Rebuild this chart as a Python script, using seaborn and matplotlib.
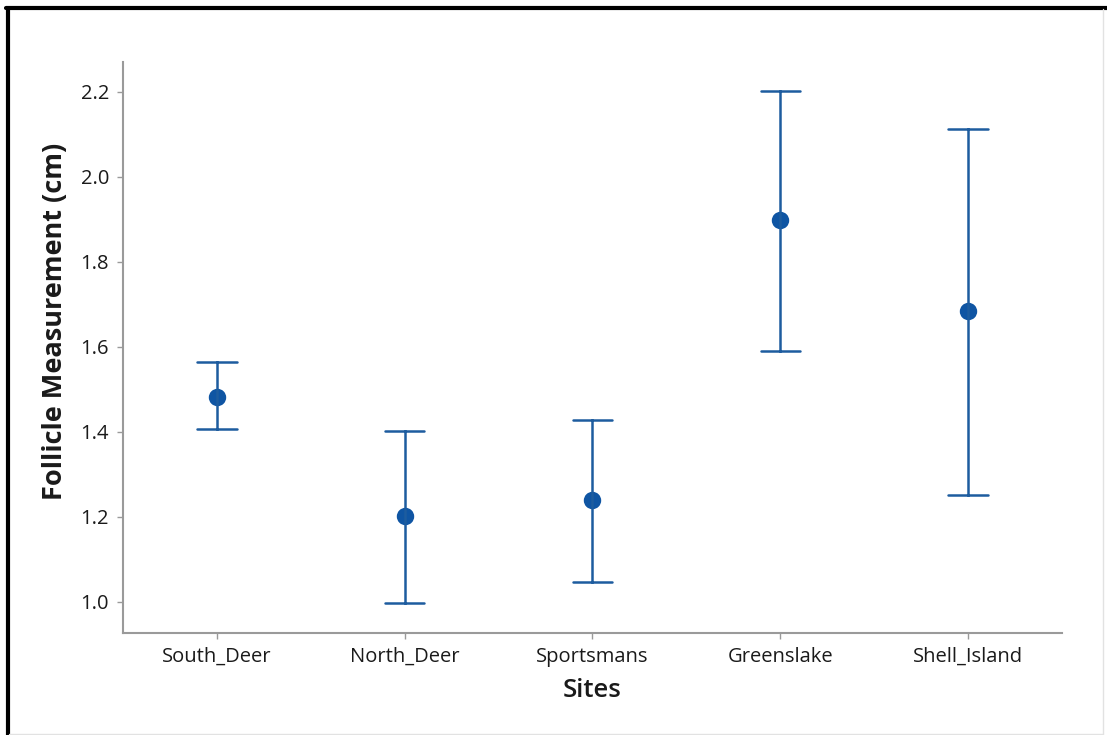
import matplotlib
matplotlib.use("Agg")
import matplotlib.pyplot as plt
import seaborn as sns
import pandas as pd
from matplotlib.lines import Line2D

# Site means with the lower / upper ends of their intervals (cm)
sites = ["South_Deer", "North_Deer", "Sportsmans", "Greenslake", "Shell_Island"]
means = [1.482, 1.202, 1.240, 1.899, 1.685]
lower = [1.407, 0.998, 1.047, 1.591, 1.252]
upper = [1.565, 1.402, 1.428, 2.202, 2.113]
yticks = [1.0, 1.2, 1.4, 1.6, 1.8, 2.0, 2.2]

# Long-form table: the median of (lower, mean, upper) is the mean and the
# full range (pi 100) spans the interval.
rows = []
for s, lo, m, hi in zip(sites, lower, means, upper):
    for v in (lo, m, hi):
        rows.append({"Sites": s, "value": v})
df = pd.DataFrame(rows)

sns.set_theme(style="white")
plt.rcParams["font.family"] = ["Open Sans", "DejaVu Sans"]

fig = plt.figure(figsize=(11.07, 7.35), dpi=100)
ax = fig.add_axes([0.1111, 0.1388, 0.8482, 0.7768])

color = "#0f55a3"
sns.pointplot(data=df, x="Sites", y="value", order=sites,
              estimator="median", errorbar=("pi", 100),
              linestyle="none", color=color, markersize=10.5,
              capsize=0.21, err_kws={"linewidth": 1.8, "color": "#1d5c9f"},
              ax=ax)

ax.set_xlim(-0.5, 4.5)
ax.set_ylim(0.927, 2.27)
ax.set_yticks(yticks)
ax.set_yticklabels([f"{t:.1f}" for t in yticks])

for side in ("top", "right"):
    ax.spines[side].set_visible(False)
for side in ("left", "bottom"):
    ax.spines[side].set_color("#9a9a9a")
    ax.spines[side].set_linewidth(1.5)
ax.tick_params(axis="both", which="both", direction="out", length=4,
               width=1, color="#9a9a9a", labelsize=14.5, labelcolor="#1a1a1a",
               pad=6, left=True, bottom=True)

ax.set_xlabel("Sites", fontsize=18.5, fontweight="semibold",
              color="#1a1a1a", labelpad=8)
ax.set_ylabel("Follicle Measurement (cm)", fontsize=19.5, fontweight="bold",
              color="#1a1a1a")
ax.yaxis.set_label_coords(-0.0587, 0.545)

# Screenshot frame: thick black edge top and left, faint grey right and bottom
W, H = 1107, 735
fig.add_artist(Line2D([6 / W, 1.0], [1 - 8 / H, 1 - 8 / H],
                      transform=fig.transFigure, color="black", linewidth=3))
fig.add_artist(Line2D([7.5 / W, 7.5 / W], [0, 1 - 8 / H],
                      transform=fig.transFigure, color="black", linewidth=3))
fig.add_artist(Line2D([1103 / W, 1103 / W], [1 / H, 1 - 9 / H],
                      transform=fig.transFigure, color="#e2e2e2", linewidth=1))
fig.add_artist(Line2D([9 / W, 1103 / W], [1.5 / H, 1.5 / H],
                      transform=fig.transFigure, color="#e2e2e2", linewidth=1))

fig.savefig("out.png", dpi=100)
